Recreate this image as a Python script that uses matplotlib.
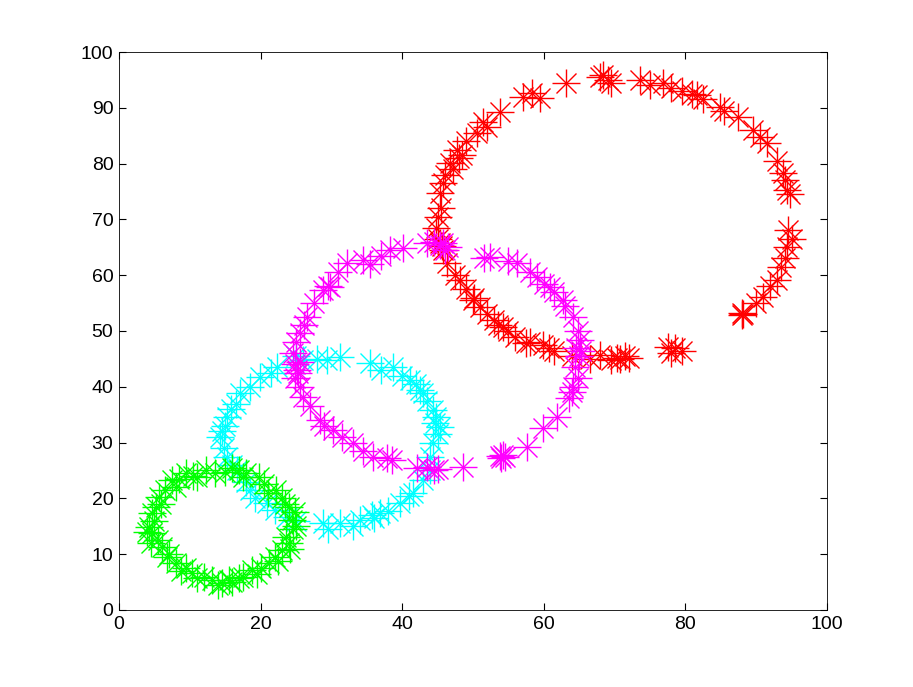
import matplotlib
matplotlib.use('Agg')
import matplotlib.pyplot as plt

# pontos, um anel por cor
red_x = [78.5, 79.5, 78.0, 77.5, 72.0, 70.3, 69.5, 67.9, 66.5, 64.0, 60.8, 59.9, 58.0, 57.5, 55.0, 54.3, 53.5,
         52.0, 51.0, 50.0, 49.0, 48.2, 47.5, 46.3, 45.8, 45.3, 45.0, 44.8, 45.1, 45.5, 45.3, 45.8, 46.8, 47.2,
         47.7, 48.5, 49.0, 50.5, 51.4, 52.0, 53.8, 57.0, 58.3, 59.5, 63.2, 68.0, 68.4, 69.0, 69.5, 73.6, 75.0,
         76.8, 78.0, 79.5, 81.0, 81.6, 82.5, 84.9, 85.5, 87.4, 89.5, 90.5, 91.5, 93.0, 93.8, 94.0, 94.3, 94.8,
         94.5, 95.0, 94.3, 94.0, 93.5, 92.9, 92.0, 91.0, 90.0, 88.0, 88.0, 88.2,
         46.0, 45.6, 48.0, 50.2, 53.0, 56.0, 61.5, 70.8, 71.5]
red_y = [47.0, 46.5, 46.0, 47.2, 45.2, 45.2, 44.8, 45.7, 45.0, 45.5, 47.0, 47.5, 48.0, 47.8, 50.0, 50.7, 51.0,
         53.0, 54.3, 55.5, 57.5, 59.1, 60.0, 62.2, 64.5, 65.8, 66.5, 68.5, 70.4, 72.0, 74.7, 76.5, 80.1, 79.0,
         82.4, 81.5, 84.0, 85.5, 87.5, 86.5, 89.2, 92.0, 92.7, 91.8, 94.4, 95.5, 95.9, 95.0, 94.5, 95.0, 94.0,
         94.4, 93.5, 93.0, 92.5, 92.3, 91.5, 90.1, 89.5, 88.4, 86.0, 84.8, 83.7, 80.5, 78.3, 77.0, 75.3, 74.5,
         68.1, 66.5, 65.1, 63.0, 61.5, 59.1, 58.0, 56.1, 55.0, 53.2, 52.8, 53.0,
         78.0, 65.2, 81.0, 56.0, 52.0, 49.0, 46.5, 44.9, 45.5]

mag_x = [54.2, 54.0, 54.5, 53.8, 57.6, 59.9, 61.9, 63.5, 64.1, 64.8, 64.4, 65.0, 65.1, 64.5, 64.8, 64.1, 63.0,
         62.7, 61.5, 60.9, 60.0, 59.0, 58.0, 56.2, 55.0, 52.4, 51.5, 46.5, 45.3, 44.5, 43.5, 46.0, 40.1, 38.3,
         37.0, 35.5, 34.5, 32.2, 31.0, 29.5, 28.8, 27.5, 26.6, 25.6, 25.0, 24.6, 25.5, 25.1, 24.8, 25.5, 26.0,
         27.0, 28.4, 29.0, 30.2, 31.5, 33.1, 34.5, 35.9, 37.8, 38.5, 42.1, 43.5, 44.5, 45.0, 48.6,
         25.3, 24.9, 65.3, 64.0, 45.8, 26.2, 29.8]
mag_y = [27.8, 27.3, 27.5, 27.6, 29.2, 32.6, 34.6, 38.0, 40.0, 41.5, 43.5, 45.5, 48.4, 47.0, 50.0, 52.5, 54.5,
         55.6, 57.0, 57.9, 58.5, 59.7, 60.5, 62.2, 62.5, 63.3, 63.0, 65.0, 65.4, 66.0, 65.8, 64.5, 64.9, 64.5,
         63.5, 62.0, 62.7, 62.2, 60.5, 58.0, 57.3, 55.0, 52.5, 49.6, 48.0, 46.0, 44.5, 43.0, 41.5, 40.0, 38.2,
         36.5, 34.0, 33.0, 32.3, 31.0, 29.9, 28.5, 27.4, 27.2, 26.8, 25.4, 25.6, 25.0, 25.2, 25.6,
         42.5, 44.0, 46.5, 39.0, 65.8, 51.0, 57.8]

cyan_x = [43.9, 44.0, 44.4, 45.0, 45.3, 44.8, 44.4, 43.5, 43.0, 42.0, 41.1, 40.0, 38.7, 37.0, 35.5, 31.2, 29.4,
          28.0, 26.0, 25.0, 22.3, 21.5, 19.9, 18.5, 17.1, 16.5, 15.3, 15.0, 14.3, 14.8, 15.3, 16.0, 16.7, 18.0,
          18.5, 19.2, 20.9, 22.0, 23.7, 25.0, 28.8, 29.5, 31.2, 33.0, 34.0, 36.0, 36.9, 38.0, 39.7, 41.0, 41.5,
          43.0, 14.6, 15.8, 44.6, 42.5, 35.8]
cyan_y = [25.1, 27.5, 29.9, 31.5, 32.8, 34.5, 35.8, 37.5, 38.9, 40.5, 41.2, 42.0, 43.5, 43.0, 44.3, 45.3, 44.8,
          45.0, 44.8, 45.5, 43.5, 42.5, 41.8, 40.0, 38.9, 37.0, 34.6, 33.0, 31.0, 29.0, 27.4, 26.0, 25.1, 23.0,
          21.5, 20.0, 19.2, 18.0, 16.7, 16.0, 15.6, 14.5, 15.6, 15.0, 16.1, 16.5, 17.4, 17.8, 19.2, 20.5, 21.0,
          23.3, 32.0, 36.0, 33.5, 39.5, 17.0]

green_x = [4.2, 4.7, 5.0, 5.6, 6.5, 7.5, 8.5, 9.5, 10.5, 12.3, 13.5, 16.0, 17.0, 18.0, 19.8, 20.5, 22.2, 23.0,
           24.0, 24.8, 24.4, 25.0, 23.6, 24.0, 23.0, 22.0, 21.2, 20.0, 18.8, 17.5, 16.0, 15.5, 14.5, 13.1, 12.0,
           10.3, 9.5, 8.0, 7.0, 6.1, 5.5, 4.7, 4.0,
           5.2, 6.0, 8.0, 11.0, 15.0, 17.5, 21.0, 23.5, 24.6, 24.2, 22.5, 19.5, 17.0, 14.0, 11.0, 8.8, 6.8, 4.5]
green_y = [14.9, 17.4, 16.0, 20.3, 21.5, 23.3, 23.5, 24.6, 24.0, 25.1, 24.5, 25.5, 25.1, 24.5, 23.8, 22.5, 21.5,
           20.0, 18.5, 17.5, 16.1, 15.0, 13.1, 12.0, 10.8, 9.5, 8.4, 7.5, 7.2, 6.0, 5.0, 5.4, 4.8, 5.4, 6.0,
           6.6, 7.5, 8.4, 10.0, 11.3, 12.5, 13.8, 14.0,
           18.5, 19.0, 22.0, 23.8, 24.8, 23.8, 21.0, 19.0, 14.5, 11.0, 8.8, 6.5, 5.8, 4.5, 5.8, 7.0, 9.5, 12.0]

fig = plt.figure(figsize=(9.13, 6.87), dpi=100)
ax = fig.add_axes([0.1303, 0.1121, 0.7755, 0.8122])

# asterisco do matlab = '+' e 'x' sobrepostos
series = [(red_x, red_y, '#ff0000'), (cyan_x, cyan_y, '#00ffff'),
          (mag_x, mag_y, '#ff00ff'), (green_x, green_y, '#00ff00')]
for xs, ys, cor in series:
    ax.plot(xs, ys, linestyle='none', marker='+', markersize=20, markeredgewidth=1.0, color=cor)
    ax.plot(xs, ys, linestyle='none', marker='x', markersize=14, markeredgewidth=1.0, color=cor)

ax.set_xlim(0, 100)
ax.set_ylim(0, 100)
ax.set_xticks(range(0, 101, 20))
ax.set_yticks(range(0, 101, 10))
ax.tick_params(direction='in', top=True, right=True, labelsize=14, length=5, pad=4)
for lbl in ax.get_xticklabels() + ax.get_yticklabels():
    lbl.set_family('Liberation Sans')
for s in ax.spines.values():
    s.set_linewidth(0.6)

fig.savefig('out.png')
